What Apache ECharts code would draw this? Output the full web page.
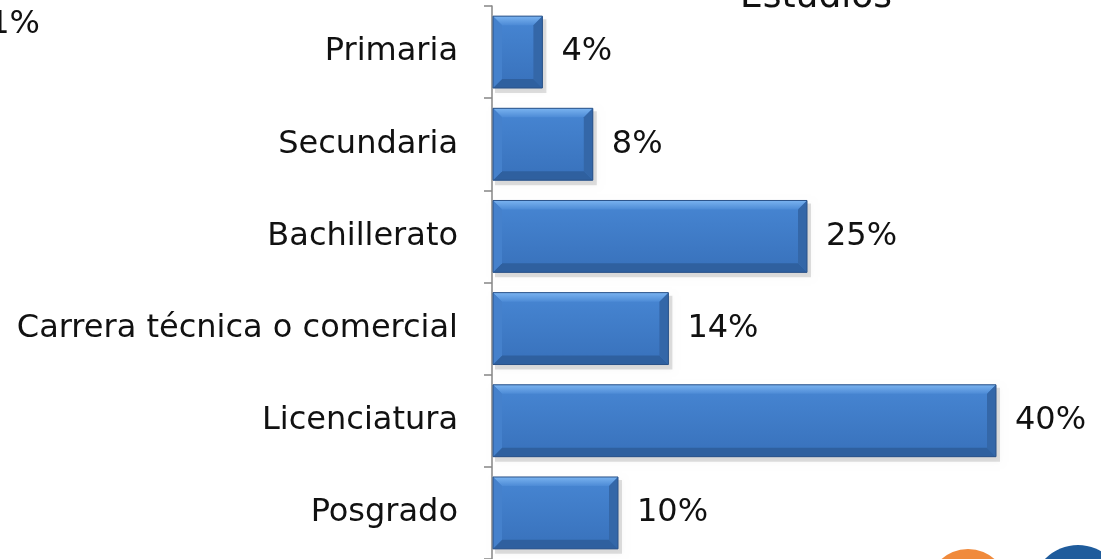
<html>
<body style="margin:0">
<script src="https://cdn.jsdelivr.net/npm/echarts@6/dist/echarts.min.js"></script>
<div id="estudios" style="width: 1101px; height: 559px;"></div>

<script type="text/javascript">

var levels = ['Primaria', 'Secundaria', 'Bachillerato', 'Carrera técnica o comercial', 'Licenciatura', 'Posgrado'];
var percents = [4, 8, 25, 14, 40, 10];
var xMax = 45;

var chartDom = document.getElementById('estudios');
var myChart = echarts.init(chartDom);
var font = 'DejaVu Sans';

// bevelled bar like the office chart
function renderBar(params, api) {
  var v = api.value(0);
  var start = api.coord([0, api.value(1)]);
  var end = api.coord([v, api.value(1)]);
  var h = api.size([0, 1])[1] * 0.78;
  var x0 = start[0] + 1, x1 = end[0];
  var y0 = start[1] - h / 2, y1 = start[1] + h / 2;
  var w = x1 - x0, b = 9;
  return {
    type: 'group',
    children: [
      { type: 'rect', shape: { x: x0 + 2, y: y0 + 3, width: w + 2, height: h + 2 },
        style: { fill: 'rgba(0,0,0,0.12)', shadowBlur: 6, shadowColor: 'rgba(0,0,0,0.25)' } },
      { type: 'rect', shape: { x: x0, y: y0, width: w, height: h },
        style: { fill: new echarts.graphic.LinearGradient(0, 0, 0, 1, [
          { offset: 0, color: '#4786d3' }, { offset: 1, color: '#3871bb' }]) } },
      { type: 'polygon', shape: { points: [[x0, y0], [x1, y0], [x1 - b, y0 + b], [x0 + b, y0 + b]] },
        style: { fill: new echarts.graphic.LinearGradient(0, 0, 0, 1, [
          { offset: 0, color: '#7ab3f0' }, { offset: 1, color: '#4d8bd6' }]) } },
      { type: 'polygon', shape: { points: [[x0, y1], [x1, y1], [x1 - b, y1 - b], [x0 + b, y1 - b]] },
        style: { fill: '#2f609f' } },
      { type: 'polygon', shape: { points: [[x0, y0], [x0 + b, y0 + b], [x0 + b, y1 - b], [x0, y1]] },
        style: { fill: '#4581cc' } },
      { type: 'polygon', shape: { points: [[x1, y0], [x1 - b, y0 + b], [x1 - b, y1 - b], [x1, y1]] },
        style: { fill: '#3467a8' } },
      { type: 'rect', shape: { x: x0, y: y0, width: w, height: h },
        style: { fill: null, stroke: '#2a5288', lineWidth: 1 } },
      { type: 'text', x: x1 + 19, y: start[1],
        style: { text: v + '%', fontFamily: font, fontSize: 32, fill: '#111',
          verticalAlign: 'middle', align: 'left' } }
    ]
  };
}

var option = {
  backgroundColor: '#ffffff',
  animation: false,
  grid: { left: 492, right: 42, top: 6, bottom: 0 },
  xAxis: { type: 'value', min: 0, max: xMax, show: false },
  yAxis: {
    type: 'category',
    data: levels,
    inverse: true,
    axisLine: { show: true, lineStyle: { color: '#868686', width: 1.5 } },
    axisTick: { show: true, alignWithLabel: false, length: 8, lineStyle: { color: '#868686', width: 1.5 } },
    axisLabel: { margin: 34, fontFamily: font, fontSize: 32, color: '#111' }
  },
  graphic: [
    { type: 'text', x: 40, y: 41,
      style: { text: '1%', fontFamily: font, fontSize: 32, fill: '#111', align: 'right', verticalAlign: 'bottom' } },
    { type: 'text', x: 740, y: 16,
      style: { text: 'Estudios', fontFamily: font, fontSize: 36, fill: '#111', align: 'left', verticalAlign: 'bottom' } },
    { type: 'circle', shape: { cx: 968, cy: 589, r: 40 }, style: { fill: '#f08a3c' } },
    { type: 'circle', shape: { cx: 1078, cy: 591, r: 46 }, style: { fill: '#1f5c9c' } }
  ],
  series: [{
    type: 'custom',
    renderItem: renderBar,
    encode: { x: 0, y: 1 },
    data: percents.map(function (p, i) { return [p, i]; })
  }]
};

option && myChart.setOption(option);

</script>
</body>
</html>
